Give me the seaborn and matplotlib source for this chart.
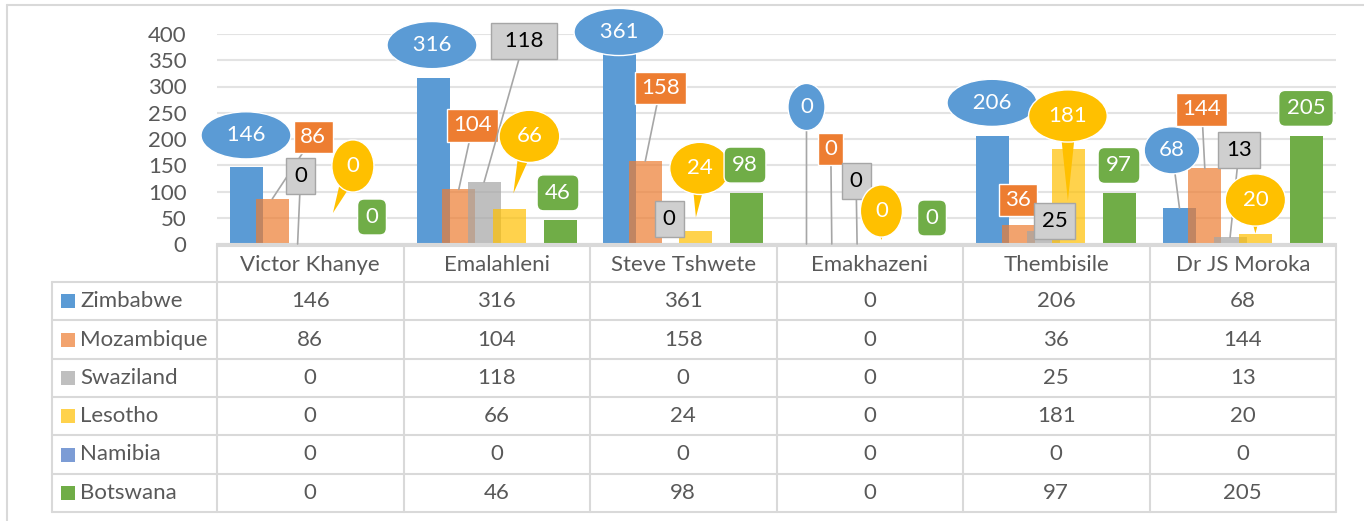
import numpy as np
import pandas as pd
import seaborn as sns
import matplotlib.pyplot as plt
from matplotlib.patches import Rectangle
from matplotlib.transforms import offset_copy

districts = ['Victor Khanye', 'Emalahleni', 'Steve Tshwete', 'Emakhazeni', 'Thembisile', 'Dr JS Moroka']
countries = ['Zimbabwe', 'Mozambique', 'Swaziland', 'Lesotho', 'Namibia', 'Botswana']
zimbabwe = [146, 316, 361, 0, 206, 68]
mozambique = [86, 104, 158, 0, 36, 144]
swaziland = [0, 118, 0, 0, 25, 13]
lesotho = [0, 66, 24, 0, 181, 20]
namibia = [0, 0, 0, 0, 0, 0]
botswana = [0, 46, 98, 0, 97, 205]
values = [zimbabwe, mozambique, swaziland, lesotho, namibia, botswana]

colors = ['#5B9BD5', '#ED7D31', '#A5A5A5', '#FFC000', '#4472C4', '#70AD47']
alphas = [1.0, 0.7, 0.7, 0.7, 0.7, 1.0]

# callout offsets (pixels from bar top, y up), None = no label
label_offsets = [
    [(-1, 32), (-1.5, 33), (-1, 22.5), (0, 137), (-1, 33), (-7.5, 58)],
    [(41, 62), (14, 64), (15, 73), (-1, 95), (0, 25), (-3, 59)],
    [(3, 68), (40, 141), (-1.5, 25), (-1, 63), (11, 10), (9, 87)],
    [(30, 78), (20, 73), (4, 63), (-1, 33), (-1, 33), (0, 33.5)],
    None,
    [(-1.5, 27), (-2, 27), (-1.5, 27.5), (-1, 26), (-0.5, 27.6), (0, 28)],
]
lesotho_tips = [(10, 31), (4, 16), (0, 14), (-1, 4), (-1, -52), (0, 0)]
leaders = {(1, 0), (2, 0), (1, 1), (2, 1), (1, 2), (0, 3), (1, 3), (2, 3), (0, 5), (1, 5), (2, 5)}

sns.set_style('white')
plt.rcParams['font.family'] = ['Lato', 'DejaVu Sans']

W, H = 1364, 521
fig = plt.figure(figsize=(W / 100, H / 100), dpi=100)
ax = fig.add_axes([217 / W, (H - 244) / H, 1119 / W, 210 / H])

df = pd.DataFrame({
    'district': np.tile(districts, len(countries)),
    'country': np.repeat(countries, len(districts)),
    'count': np.concatenate(values),
})
sns.barplot(data=df, x='district', y='count', hue='country', order=districts, hue_order=countries,
            palette=colors, saturation=1, width=0.814, errorbar=None, legend=False, ax=ax)

bar_w = 33 / 186.5
for cont, a in zip(ax.containers, alphas):
    for p in cont.patches:
        cx = p.get_x() + p.get_width() / 2
        p.set_x(cx - bar_w / 2)
        p.set_width(bar_w)
        p.set_alpha(a)
        p.set_linewidth(0)

ax.set_xlim(-0.5, 5.5)
ax.set_ylim(0, 400)
ax.set_yticks(range(0, 401, 50))
ax.yaxis.grid(True, color='#E3E3E3', lw=1.5)
ax.set_axisbelow(True)
ax.tick_params(axis='y', labelsize=16, labelcolor='#595959', length=0, pad=22)
ax.set_xticks([])
ax.set_xlabel('')
ax.set_ylabel('')
for s in ['top', 'right', 'left']:
    ax.spines[s].set_visible(False)
ax.spines['bottom'].set_color('#D9D9D9')
ax.spines['bottom'].set_linewidth(1.5)

styles = [
    dict(boxstyle='ellipse,pad=0.3', fc='#5B9BD5', ec='white', lw=1),
    dict(boxstyle='square,pad=0.28', fc='#ED7D31', ec='white', lw=1),
    dict(boxstyle='square,pad=0.36', fc='#CFCFCF', ec='#A6A6A6', lw=1),
    dict(boxstyle='ellipse,pad=0.38', fc='#FFC000', ec='white', lw=1),
    None,
    dict(boxstyle='round,pad=0.36,rounding_size=0.3', fc='#70AD47', ec='white', lw=1),
]
text_colors = ['white', 'white', 'black', 'white', 'white', 'white']

for si, cont in enumerate(ax.containers):
    if label_offsets[si] is None:
        continue
    for di, p in enumerate(cont.patches):
        v = values[si][di]
        bx = p.get_x() + p.get_width() / 2
        dx, dy = label_offsets[si][di]
        txt = str(v)
        if si in (0, 2) and len(txt) == 3:
            txt = f' {txt} '
        text_tr = offset_copy(ax.transData, fig=fig, x=dx, y=dy, units='dots')
        kw = dict(ha='center', va='center', fontsize=16, color=text_colors[si],
                  bbox=styles[si], annotation_clip=False, zorder=5)
        if si == 3:
            tx, ty = lesotho_tips[di]
            tip_tr = offset_copy(ax.transData, fig=fig, x=tx, y=ty, units='dots')
            ax.annotate(txt, xy=(bx, v), xycoords=tip_tr, xytext=(bx, v), textcoords=text_tr,
                        arrowprops=dict(arrowstyle='wedge,tail_width=0.8,shrink_factor=0.5',
                                        fc='#FFC000', ec='none', patchA=None, shrinkA=0, shrinkB=0),
                        **kw)
        elif (si, di) in leaders:
            ax.annotate(txt, xy=(bx, v), xycoords='data', xytext=(bx, v), textcoords=text_tr,
                        arrowprops=dict(arrowstyle='-', color='#A6A6A6', lw=1.2, shrinkA=0, shrinkB=0),
                        **kw)
        else:
            ax.annotate(txt, xy=(bx, v), xycoords=text_tr, **kw)

# data table and chart frame in pixel coordinates
tab = fig.add_axes([0, 0, 1, 1], zorder=-1)
tab.set_xlim(0, W)
tab.set_ylim(H, 0)
tab.axis('off')
line_c = '#D9D9D9'
cols = np.linspace(217, 1336, len(districts) + 1)
rows = np.linspace(282, 512, len(countries) + 1)
tab.plot([7, W], [5, 5], color=line_c, lw=1.5)
tab.plot([7, 7], [5, H], color=line_c, lw=1.5)
tab.plot([217, 1336], [246, 246], color=line_c, lw=1.5)
for y in rows:
    tab.plot([52, 1336], [y, y], color=line_c, lw=1.5)
for x in cols:
    tab.plot([x, x], [246, 512], color=line_c, lw=1.5)
tab.plot([52, 52], [282, 512], color=line_c, lw=1.5)

for ci, name in enumerate(districts):
    tab.text((cols[ci] + cols[ci + 1]) / 2, 265, name, ha='center', va='center',
             fontsize=16, color='#595959')
for ri, name in enumerate(countries):
    yc = (rows[ri] + rows[ri + 1]) / 2
    tab.add_patch(Rectangle((61, yc - 7), 14, 14, fc=colors[ri], alpha=alphas[ri], lw=0))
    tab.text(80, yc, name, ha='left', va='center', fontsize=16, color='#595959')
    for ci in range(len(districts)):
        tab.text((cols[ci] + cols[ci + 1]) / 2, yc, str(values[ri][ci]), ha='center', va='center',
                 fontsize=16, color='#595959')

fig.savefig('out.png', dpi=100)
